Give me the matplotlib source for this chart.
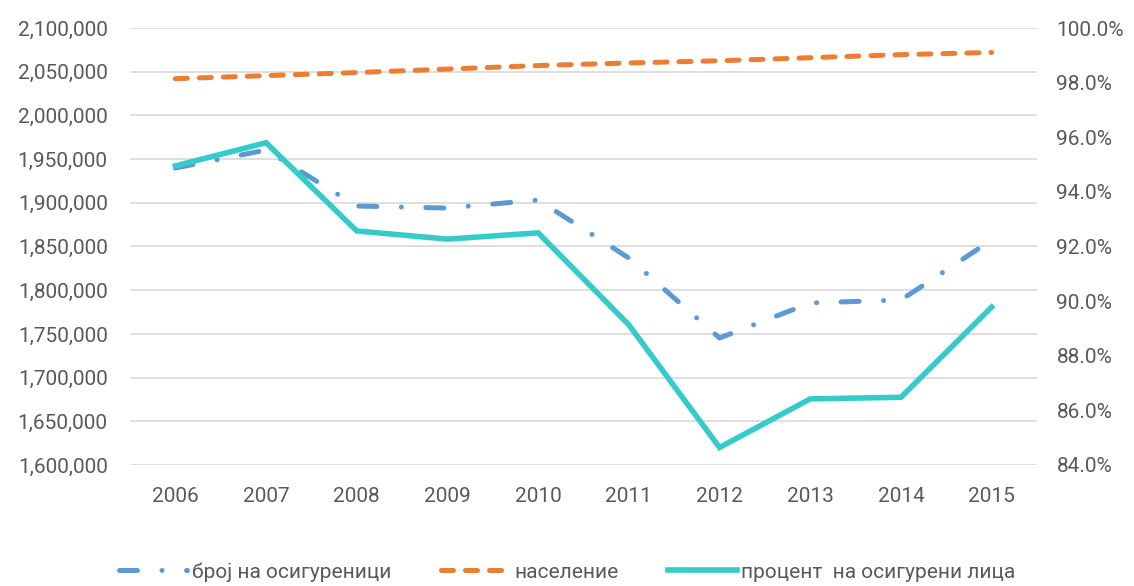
import matplotlib.pyplot as plt
from matplotlib.ticker import FuncFormatter, MultipleLocator

plt.rcParams['font.family'] = ['Roboto', 'DejaVu Sans']

# Data
years = ['2006', '2007', '2008', '2009', '2010', '2011', '2012', '2013', '2014', '2015']
insured = [1939800, 1960400, 1896300, 1894000, 1903200, 1836800, 1745300, 1785400, 1788800, 1857400]
population = [2042000, 2045500, 2049000, 2053000, 2057000, 2060000, 2062500, 2066000, 2069500, 2072000]
percent = [94.95, 95.80, 92.57, 92.27, 92.50, 89.13, 84.64, 86.42, 86.48, 89.78]

labels = ['број на осигуреници', 'население', 'процент  на осигурени лица']
colors = ['#5B9BD5', '#ED7D31', '#36CBCB']
text_color = '#595959'

fig = plt.figure(figsize=(11.34, 5.86), dpi=100)
ax = fig.add_axes([130 / 1134, 1 - 465 / 586, (1037 - 130) / 1134, (465 - 28) / 586])
ax2 = ax.twinx()

x = range(len(years))
l1, = ax.plot(x, insured, color=colors[0], lw=3.6, linestyle=(0, (3.6, 4.9, 0.01, 4.9)),
              dash_capstyle='round', label=labels[0])
l2, = ax.plot(x, population, color=colors[1], lw=3.6, linestyle=(0, (2.4, 2.4)),
              dash_capstyle='round', label=labels[1])
l3, = ax2.plot(x, percent, color=colors[2], lw=4.0, solid_joinstyle='miter', label=labels[2])

ax.set_xlim(-0.5, len(years) - 0.5)
ax.set_ylim(1600000, 2100000)
ax.yaxis.set_major_locator(MultipleLocator(50000))
ax.yaxis.set_major_formatter(FuncFormatter(lambda v, p: f'{v:,.0f}'))
ax2.set_ylim(84, 100)
ax2.yaxis.set_major_locator(MultipleLocator(2))
ax2.yaxis.set_major_formatter(FuncFormatter(lambda v, p: f'{v:.1f}%'))

ax.set_xticks(list(x))
ax.set_xticklabels(years)
ax.grid(axis='y', color='#D9D9D9', lw=1.2)
ax.set_axisbelow(True)
for a in (ax, ax2):
    for s in a.spines.values():
        s.set_visible(False)
    a.tick_params(length=0, labelsize=15, colors=text_color)
ax.tick_params(axis='y', pad=16)
ax.tick_params(axis='x', pad=16)
ax2.tick_params(axis='y', pad=14)

fig.legend(handles=[l1, l2, l3], loc='center', bbox_to_anchor=(0.5, 0.024), ncol=3,
           frameon=False, fontsize=15, handlelength=3.3, handletextpad=0.2,
           columnspacing=2.4, labelcolor=text_color, borderpad=0.2)

fig.savefig('out.png', dpi=100)
